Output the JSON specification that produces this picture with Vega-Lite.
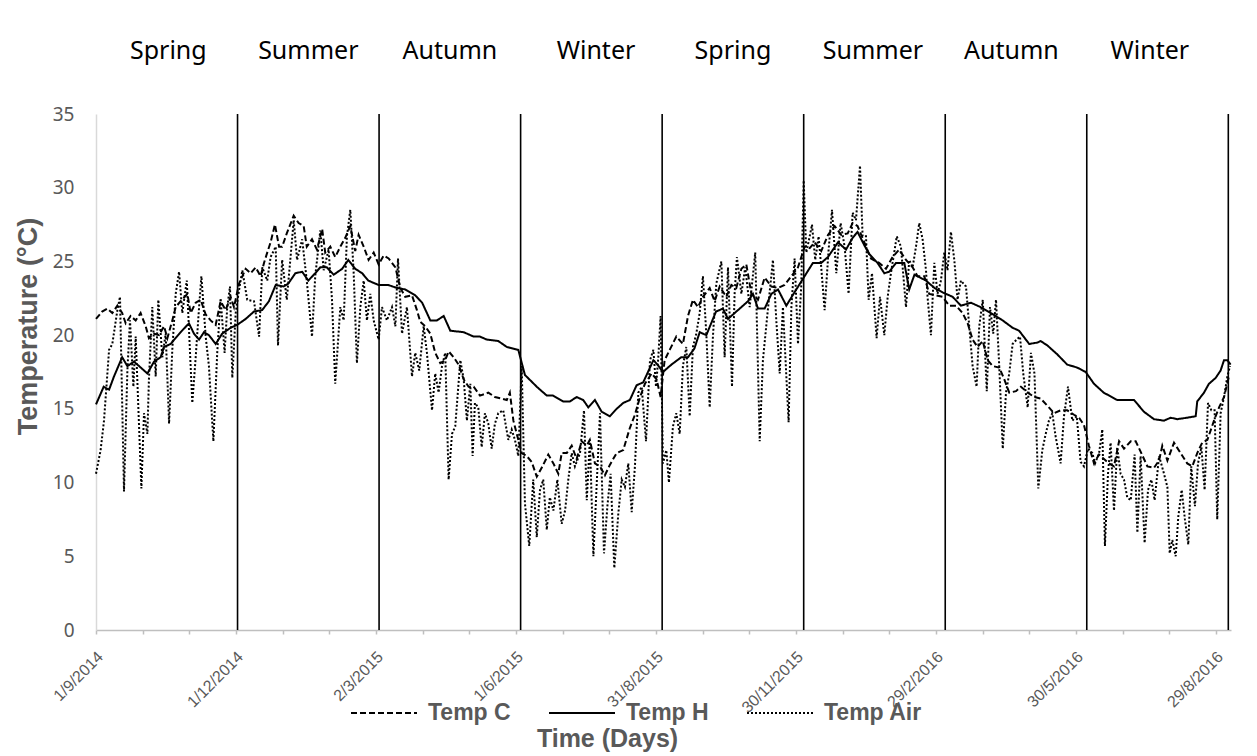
{
  "$schema": "https://vega.github.io/schema/vega-lite/v6.json",
  "width": 1135,
  "height": 516,
  "autosize": {"type": "none"},
  "padding": {"left": 96, "top": 114, "right": 26, "bottom": 126},
  "background": "white",
  "config": {"view": {"stroke": null}, "font": "Liberation Sans"},
  "datasets": {
    "bounds": [{"day": 92}, {"day": 184}, {"day": 276}, {"day": 368}, {"day": 460}, {"day": 552}, {"day": 644}, {"day": 736}],
    "seasons": [
      {"season": "Spring", "day": 47}, {"season": "Summer", "day": 138}, {"season": "Autumn", "day": 230}, {"season": "Winter", "day": 325},
      {"season": "Spring", "day": 414}, {"season": "Summer", "day": 505}, {"season": "Autumn", "day": 595}, {"season": "Winter", "day": 685}
    ],
    "temps": [
      {"series":"Temp H","day":0,"temp":15.3},{"series":"Temp H","day":5,"temp":16.5},{"series":"Temp H","day":8.5,"temp":16.3},{"series":"Temp H","day":11.7,"temp":17.2},{"series":"Temp H","day":17,"temp":18.5},{"series":"Temp H","day":20.4,"temp":17.9},{"series":"Temp H","day":24.7,"temp":18.2},{"series":"Temp H","day":28,"temp":17.9},{"series":"Temp H","day":33.4,"temp":17.4},{"series":"Temp H","day":37.7,"temp":18.2},{"series":"Temp H","day":42,"temp":18.5},{"series":"Temp H","day":44.2,"temp":19.2},{"series":"Temp H","day":48.5,"temp":19.4},{"series":"Temp H","day":55,"temp":20.2},{"series":"Temp H","day":60.4,"temp":20.8},{"series":"Temp H","day":63.7,"temp":20.1},{"series":"Temp H","day":67,"temp":19.7},{"series":"Temp H","day":70.2,"temp":20.2},{"series":"Temp H","day":73.4,"temp":20.0},{"series":"Temp H","day":77.8,"temp":19.4},{"series":"Temp H","day":82,"temp":20.1},{"series":"Temp H","day":87.5,"temp":20.5},{"series":"Temp H","day":91.8,"temp":20.7},{"series":"Temp H","day":97.3,"temp":21.1},{"series":"Temp H","day":102.7,"temp":21.6},{"series":"Temp H","day":108,"temp":21.7},{"series":"Temp H","day":112.4,"temp":22.3},{"series":"Temp H","day":116.8,"temp":23.4},{"series":"Temp H","day":122,"temp":23.3},{"series":"Temp H","day":125,"temp":23.5},{"series":"Temp H","day":129.6,"temp":24.2},{"series":"Temp H","day":134,"temp":24.3},{"series":"Temp H","day":138,"temp":23.7},{"series":"Temp H","day":142.5,"temp":24.2},{"series":"Temp H","day":145.8,"temp":24.6},{"series":"Temp H","day":150,"temp":24.6},{"series":"Temp H","day":154.5,"temp":24.1},{"series":"Temp H","day":160,"temp":24.5},{"series":"Temp H","day":164,"temp":25.1},{"series":"Temp H","day":168.5,"temp":24.5},{"series":"Temp H","day":173,"temp":24.2},{"series":"Temp H","day":177,"temp":23.7},{"series":"Temp H","day":183.7,"temp":23.4},{"series":"Temp H","day":190,"temp":23.4},{"series":"Temp H","day":195.6,"temp":23.2},{"series":"Temp H","day":201,"temp":23.1},{"series":"Temp H","day":207.5,"temp":22.7},{"series":"Temp H","day":212,"temp":22.2},{"series":"Temp H","day":217.3,"temp":21.0},{"series":"Temp H","day":221.6,"temp":21.0},{"series":"Temp H","day":226,"temp":21.3},{"series":"Temp H","day":230.3,"temp":20.3},{"series":"Temp H","day":239,"temp":20.2},{"series":"Temp H","day":245.5,"temp":19.9},{"series":"Temp H","day":249.6,"temp":19.9},{"series":"Temp H","day":254,"temp":19.7},{"series":"Temp H","day":261.5,"temp":19.6},{"series":"Temp H","day":267,"temp":19.2},{"series":"Temp H","day":274.5,"temp":19.0},{"series":"Temp H","day":278.8,"temp":17.3},{"series":"Temp H","day":286.5,"temp":16.5},{"series":"Temp H","day":293,"temp":15.9},{"series":"Temp H","day":297,"temp":15.9},{"series":"Temp H","day":303.7,"temp":15.5},{"series":"Temp H","day":308,"temp":15.5},{"series":"Temp H","day":312.4,"temp":15.8},{"series":"Temp H","day":316.7,"temp":15.6},{"series":"Temp H","day":320,"temp":15.1},{"series":"Temp H","day":324.3,"temp":15.6},{"series":"Temp H","day":328.7,"temp":14.8},{"series":"Temp H","day":334,"temp":14.5},{"series":"Temp H","day":338.4,"temp":15.0},{"series":"Temp H","day":342.7,"temp":15.4},{"series":"Temp H","day":347,"temp":15.6},{"series":"Temp H","day":351.4,"temp":16.6},{"series":"Temp H","day":355.7,"temp":16.8},{"series":"Temp H","day":362.3,"temp":18.3},{"series":"Temp H","day":365,"temp":18.0},{"series":"Temp H","day":368.5,"temp":17.5},{"series":"Temp H","day":374,"temp":18.0},{"series":"Temp H","day":380.4,"temp":18.5},{"series":"Temp H","day":384.8,"temp":18.5},{"series":"Temp H","day":389,"temp":19.1},{"series":"Temp H","day":392.4,"temp":20.2},{"series":"Temp H","day":396.7,"temp":20.0},{"series":"Temp H","day":403,"temp":21.6},{"series":"Temp H","day":407.5,"temp":21.8},{"series":"Temp H","day":410.8,"temp":21.1},{"series":"Temp H","day":417.3,"temp":21.7},{"series":"Temp H","day":423.8,"temp":22.3},{"series":"Temp H","day":427,"temp":22.8},{"series":"Temp H","day":430.3,"temp":21.8},{"series":"Temp H","day":434.6,"temp":21.8},{"series":"Temp H","day":439,"temp":22.8},{"series":"Temp H","day":443.3,"temp":23.1},{"series":"Temp H","day":448.7,"temp":22.0},{"series":"Temp H","day":454,"temp":22.9},{"series":"Temp H","day":460.6,"temp":24.0},{"series":"Temp H","day":466,"temp":24.9},{"series":"Temp H","day":471.4,"temp":24.9},{"series":"Temp H","day":475.8,"temp":25.3},{"series":"Temp H","day":482.3,"temp":26.3},{"series":"Temp H","day":487.5,"temp":25.8},{"series":"Temp H","day":491.8,"temp":26.6},{"series":"Temp H","day":495,"temp":27.0},{"series":"Temp H","day":499.4,"temp":26.1},{"series":"Temp H","day":502.6,"temp":25.5},{"series":"Temp H","day":508,"temp":24.9},{"series":"Temp H","day":512.4,"temp":24.2},{"series":"Temp H","day":515.6,"temp":24.3},{"series":"Temp H","day":520,"temp":24.9},{"series":"Temp H","day":525.4,"temp":24.9},{"series":"Temp H","day":528.6,"temp":23.1},{"series":"Temp H","day":532,"temp":24.1},{"series":"Temp H","day":539.5,"temp":23.7},{"series":"Temp H","day":545,"temp":23.2},{"series":"Temp H","day":550.3,"temp":22.9},{"series":"Temp H","day":556.8,"temp":22.6},{"series":"Temp H","day":562.2,"temp":22.0},{"series":"Temp H","day":568.7,"temp":22.2},{"series":"Temp H","day":575,"temp":21.9},{"series":"Temp H","day":581.7,"temp":21.5},{"series":"Temp H","day":589.3,"temp":21.0},{"series":"Temp H","day":595.8,"temp":20.5},{"series":"Temp H","day":600,"temp":20.3},{"series":"Temp H","day":606.6,"temp":19.4},{"series":"Temp H","day":612,"temp":19.5},{"series":"Temp H","day":614,"temp":19.6},{"series":"Temp H","day":618.4,"temp":19.3},{"series":"Temp H","day":624.8,"temp":18.7},{"series":"Temp H","day":631.3,"temp":18.0},{"series":"Temp H","day":637.8,"temp":17.8},{"series":"Temp H","day":643.3,"temp":17.5},{"series":"Temp H","day":648.7,"temp":16.7},{"series":"Temp H","day":655,"temp":16.1},{"series":"Temp H","day":663.8,"temp":15.6},{"series":"Temp H","day":669.3,"temp":15.6},{"series":"Temp H","day":674.7,"temp":15.6},{"series":"Temp H","day":681.2,"temp":14.8},{"series":"Temp H","day":687.7,"temp":14.3},{"series":"Temp H","day":694.2,"temp":14.2},{"series":"Temp H","day":698.5,"temp":14.4},{"series":"Temp H","day":702.8,"temp":14.3},{"series":"Temp H","day":709.3,"temp":14.4},{"series":"Temp H","day":714.8,"temp":14.5},{"series":"Temp H","day":715.8,"temp":15.5},{"series":"Temp H","day":720.2,"temp":16.1},{"series":"Temp H","day":723.4,"temp":16.7},{"series":"Temp H","day":727.8,"temp":17.1},{"series":"Temp H","day":731,"temp":17.6},{"series":"Temp H","day":733.2,"temp":18.3},{"series":"Temp H","day":735.4,"temp":18.3},{"series":"Temp H","day":737.5,"temp":18.0},
      {"series":"Temp C","day":0,"temp":21.1},{"series":"Temp C","day":4,"temp":21.6},{"series":"Temp C","day":7.4,"temp":21.8},{"series":"Temp C","day":10.6,"temp":21.5},{"series":"Temp C","day":13.9,"temp":22.0},{"series":"Temp C","day":17,"temp":21.5},{"series":"Temp C","day":19.3,"temp":20.8},{"series":"Temp C","day":22.5,"temp":21.3},{"series":"Temp C","day":25.8,"temp":21.0},{"series":"Temp C","day":29,"temp":21.5},{"series":"Temp C","day":32.3,"temp":20.6},{"series":"Temp C","day":34.4,"temp":19.8},{"series":"Temp C","day":37.7,"temp":20.1},{"series":"Temp C","day":41,"temp":20.0},{"series":"Temp C","day":44.2,"temp":20.6},{"series":"Temp C","day":46.4,"temp":19.8},{"series":"Temp C","day":49.6,"temp":21.0},{"series":"Temp C","day":51.8,"temp":21.9},{"series":"Temp C","day":55,"temp":22.3},{"series":"Temp C","day":59.4,"temp":22.8},{"series":"Temp C","day":61.5,"temp":21.5},{"series":"Temp C","day":64.8,"temp":22.2},{"series":"Temp C","day":68,"temp":22.4},{"series":"Temp C","day":71.3,"temp":21.4},{"series":"Temp C","day":74.5,"temp":21.0},{"series":"Temp C","day":77.8,"temp":20.7},{"series":"Temp C","day":81,"temp":22.3},{"series":"Temp C","day":84.3,"temp":21.7},{"series":"Temp C","day":87.5,"temp":22.6},{"series":"Temp C","day":89.7,"temp":21.9},{"series":"Temp C","day":93,"temp":23.5},{"series":"Temp C","day":97.3,"temp":24.5},{"series":"Temp C","day":100.5,"temp":24.2},{"series":"Temp C","day":103.8,"temp":24.6},{"series":"Temp C","day":107,"temp":24.0},{"series":"Temp C","day":109.2,"temp":24.9},{"series":"Temp C","day":111.3,"temp":25.6},{"series":"Temp C","day":113.5,"temp":26.3},{"series":"Temp C","day":116.3,"temp":27.5},{"series":"Temp C","day":119,"temp":26.0},{"series":"Temp C","day":121,"temp":26.0},{"series":"Temp C","day":124,"temp":26.9},{"series":"Temp C","day":128.5,"temp":28.1},{"series":"Temp C","day":131.7,"temp":27.6},{"series":"Temp C","day":135,"temp":27.4},{"series":"Temp C","day":137,"temp":26.0},{"series":"Temp C","day":140.4,"temp":26.5},{"series":"Temp C","day":143.6,"temp":25.8},{"series":"Temp C","day":147,"temp":27.2},{"series":"Temp C","day":149,"temp":25.6},{"series":"Temp C","day":152.3,"temp":26.0},{"series":"Temp C","day":155.5,"temp":25.3},{"series":"Temp C","day":158.8,"temp":26.0},{"series":"Temp C","day":162,"temp":26.6},{"series":"Temp C","day":165.3,"temp":27.4},{"series":"Temp C","day":168.5,"temp":25.7},{"series":"Temp C","day":170.7,"temp":26.8},{"series":"Temp C","day":174,"temp":26.0},{"series":"Temp C","day":177.2,"temp":25.1},{"series":"Temp C","day":180.5,"temp":25.6},{"series":"Temp C","day":183.7,"temp":24.8},{"series":"Temp C","day":187,"temp":25.4},{"series":"Temp C","day":190.2,"temp":25.2},{"series":"Temp C","day":194.6,"temp":24.6},{"series":"Temp C","day":197.8,"temp":23.2},{"series":"Temp C","day":201,"temp":22.6},{"series":"Temp C","day":205.4,"temp":22.7},{"series":"Temp C","day":208.6,"temp":21.7},{"series":"Temp C","day":210.8,"temp":20.9},{"series":"Temp C","day":214,"temp":20.6},{"series":"Temp C","day":217.3,"temp":20.1},{"series":"Temp C","day":220.5,"temp":18.8},{"series":"Temp C","day":223.8,"temp":18.1},{"series":"Temp C","day":227,"temp":18.3},{"series":"Temp C","day":229.2,"temp":18.9},{"series":"Temp C","day":232.5,"temp":18.5},{"series":"Temp C","day":235.7,"temp":18.0},{"series":"Temp C","day":239,"temp":17.0},{"series":"Temp C","day":242.2,"temp":16.5},{"series":"Temp C","day":245.5,"temp":16.5},{"series":"Temp C","day":249.6,"temp":15.9},{"series":"Temp C","day":255,"temp":16.1},{"series":"Temp C","day":259.3,"temp":15.8},{"series":"Temp C","day":263.7,"temp":15.7},{"series":"Temp C","day":267,"temp":15.6},{"series":"Temp C","day":269,"temp":16.1},{"series":"Temp C","day":271.3,"temp":14.2},{"series":"Temp C","day":274.5,"temp":12.9},{"series":"Temp C","day":276.7,"temp":12.0},{"series":"Temp C","day":280,"temp":11.8},{"series":"Temp C","day":283.2,"temp":11.4},{"series":"Temp C","day":286.5,"temp":10.4},{"series":"Temp C","day":289.7,"temp":11.0},{"series":"Temp C","day":294,"temp":11.9},{"series":"Temp C","day":297.3,"temp":11.3},{"series":"Temp C","day":300.5,"temp":10.6},{"series":"Temp C","day":302.7,"temp":12.0},{"series":"Temp C","day":306,"temp":12.0},{"series":"Temp C","day":309.2,"temp":12.5},{"series":"Temp C","day":312.4,"temp":11.6},{"series":"Temp C","day":315.7,"temp":12.8},{"series":"Temp C","day":319,"temp":12.5},{"series":"Temp C","day":321,"temp":12.9},{"series":"Temp C","day":324.3,"temp":11.3},{"series":"Temp C","day":327.6,"temp":11.1},{"series":"Temp C","day":330.8,"temp":10.5},{"series":"Temp C","day":334,"temp":11.2},{"series":"Temp C","day":338.4,"temp":12.0},{"series":"Temp C","day":342.7,"temp":12.2},{"series":"Temp C","day":347,"temp":13.7},{"series":"Temp C","day":350.3,"temp":14.6},{"series":"Temp C","day":353.6,"temp":15.8},{"series":"Temp C","day":356.8,"temp":16.7},{"series":"Temp C","day":361.2,"temp":17.4},{"series":"Temp C","day":364.4,"temp":17.0},{"series":"Temp C","day":367,"temp":15.8},{"series":"Temp C","day":369.6,"temp":18.3},{"series":"Temp C","day":372.9,"temp":19.0},{"series":"Temp C","day":377.2,"temp":19.9},{"series":"Temp C","day":381.5,"temp":19.4},{"series":"Temp C","day":384.8,"temp":21.3},{"series":"Temp C","day":388,"temp":22.4},{"series":"Temp C","day":391.3,"temp":21.9},{"series":"Temp C","day":394.5,"temp":22.6},{"series":"Temp C","day":398.9,"temp":23.2},{"series":"Temp C","day":402.1,"temp":22.3},{"series":"Temp C","day":405.4,"temp":23.3},{"series":"Temp C","day":409.7,"temp":22.6},{"series":"Temp C","day":413,"temp":23.4},{"series":"Temp C","day":416.2,"temp":23.2},{"series":"Temp C","day":419.5,"temp":24.5},{"series":"Temp C","day":422.7,"temp":24.8},{"series":"Temp C","day":426,"temp":22.8},{"series":"Temp C","day":430.3,"temp":22.4},{"series":"Temp C","day":434.6,"temp":23.9},{"series":"Temp C","day":439,"temp":23.3},{"series":"Temp C","day":443.3,"temp":23.2},{"series":"Temp C","day":447.6,"temp":23.4},{"series":"Temp C","day":452,"temp":24.0},{"series":"Temp C","day":456.3,"temp":24.6},{"series":"Temp C","day":460.6,"temp":26.0},{"series":"Temp C","day":463.9,"temp":25.9},{"series":"Temp C","day":467.1,"temp":26.3},{"series":"Temp C","day":471.4,"temp":25.7},{"series":"Temp C","day":475.8,"temp":26.8},{"series":"Temp C","day":480.1,"temp":27.4},{"series":"Temp C","day":484.4,"temp":26.8},{"series":"Temp C","day":488.6,"temp":26.9},{"series":"Temp C","day":491.8,"temp":27.6},{"series":"Temp C","day":495,"temp":27.4},{"series":"Temp C","day":499.4,"temp":26.3},{"series":"Temp C","day":503.7,"temp":25.2},{"series":"Temp C","day":509,"temp":24.9},{"series":"Temp C","day":513.5,"temp":24.5},{"series":"Temp C","day":517.8,"temp":25.3},{"series":"Temp C","day":522,"temp":25.8},{"series":"Temp C","day":526.5,"temp":25.1},{"series":"Temp C","day":530.8,"temp":24.6},{"series":"Temp C","day":534,"temp":24.0},{"series":"Temp C","day":538.4,"temp":24.0},{"series":"Temp C","day":541.6,"temp":22.8},{"series":"Temp C","day":546,"temp":22.7},{"series":"Temp C","day":550.3,"temp":22.6},{"series":"Temp C","day":554.6,"temp":22.0},{"series":"Temp C","day":559,"temp":22.0},{"series":"Temp C","day":563.3,"temp":21.5},{"series":"Temp C","day":566.6,"temp":20.8},{"series":"Temp C","day":569.8,"temp":19.7},{"series":"Temp C","day":573,"temp":19.2},{"series":"Temp C","day":576.4,"temp":19.6},{"series":"Temp C","day":579.6,"temp":18.3},{"series":"Temp C","day":582.9,"temp":17.9},{"series":"Temp C","day":587.1,"temp":17.8},{"series":"Temp C","day":590.4,"temp":17.0},{"series":"Temp C","day":593.6,"temp":16.1},{"series":"Temp C","day":598,"temp":16.2},{"series":"Temp C","day":601.2,"temp":16.5},{"series":"Temp C","day":605.6,"temp":16.1},{"series":"Temp C","day":610,"temp":15.8},{"series":"Temp C","day":614,"temp":15.7},{"series":"Temp C","day":619.4,"temp":15.1},{"series":"Temp C","day":622.7,"temp":14.7},{"series":"Temp C","day":627,"temp":14.9},{"series":"Temp C","day":631.3,"temp":14.9},{"series":"Temp C","day":635.7,"temp":14.6},{"series":"Temp C","day":639,"temp":14.4},{"series":"Temp C","day":642.2,"temp":13.9},{"series":"Temp C","day":645.4,"temp":12.5},{"series":"Temp C","day":648.7,"temp":11.3},{"series":"Temp C","day":652,"temp":11.9},{"series":"Temp C","day":655.2,"temp":11.6},{"series":"Temp C","day":658.4,"temp":11.3},{"series":"Temp C","day":661.7,"temp":11.1},{"series":"Temp C","day":665,"temp":12.8},{"series":"Temp C","day":668.2,"temp":12.3},{"series":"Temp C","day":672.6,"temp":12.8},{"series":"Temp C","day":675.8,"temp":12.8},{"series":"Temp C","day":679,"temp":12.1},{"series":"Temp C","day":683.4,"temp":11.1},{"series":"Temp C","day":687.7,"temp":11.0},{"series":"Temp C","day":691,"temp":11.5},{"series":"Temp C","day":693.1,"temp":12.5},{"series":"Temp C","day":696.4,"temp":11.5},{"series":"Temp C","day":700.7,"temp":12.7},{"series":"Temp C","day":705,"temp":12.0},{"series":"Temp C","day":709.3,"temp":11.3},{"series":"Temp C","day":712.6,"temp":11.1},{"series":"Temp C","day":715.8,"temp":12.0},{"series":"Temp C","day":719,"temp":12.7},{"series":"Temp C","day":722.4,"temp":12.9},{"series":"Temp C","day":726.7,"temp":14.2},{"series":"Temp C","day":730,"temp":15.1},{"series":"Temp C","day":733.2,"temp":15.8},{"series":"Temp C","day":736.4,"temp":17.2},
      {"series":"Temp Air","day":0,"temp":10.6},{"series":"Temp Air","day":3,"temp":12.2},{"series":"Temp Air","day":5.2,"temp":14.2},{"series":"Temp Air","day":8.5,"temp":19.0},{"series":"Temp Air","day":10.6,"temp":19.4},{"series":"Temp Air","day":13.9,"temp":21.7},{"series":"Temp Air","day":15.6,"temp":22.6},{"series":"Temp Air","day":18.2,"temp":9.4},{"series":"Temp Air","day":20.4,"temp":17.6},{"series":"Temp Air","day":22.1,"temp":21.0},{"series":"Temp Air","day":24.3,"temp":16.5},{"series":"Temp Air","day":25.8,"temp":19.9},{"series":"Temp Air","day":29.5,"temp":9.6},{"series":"Temp Air","day":31.2,"temp":14.7},{"series":"Temp Air","day":33.4,"temp":13.3},{"series":"Temp Air","day":34.4,"temp":17.0},{"series":"Temp Air","day":36.6,"temp":21.9},{"series":"Temp Air","day":38.8,"temp":17.2},{"series":"Temp Air","day":40.5,"temp":22.4},{"series":"Temp Air","day":43.1,"temp":18.5},{"series":"Temp Air","day":45.3,"temp":20.1},{"series":"Temp Air","day":47.5,"temp":14.0},{"series":"Temp Air","day":49.6,"temp":19.0},{"series":"Temp Air","day":51.8,"temp":22.8},{"series":"Temp Air","day":54,"temp":24.3},{"series":"Temp Air","day":56.1,"temp":21.5},{"series":"Temp Air","day":59,"temp":23.7},{"series":"Temp Air","day":62.6,"temp":15.4},{"series":"Temp Air","day":64.8,"temp":18.5},{"series":"Temp Air","day":67,"temp":21.9},{"series":"Temp Air","day":68.5,"temp":24.0},{"series":"Temp Air","day":71.3,"temp":19.9},{"series":"Temp Air","day":73.4,"temp":17.9},{"series":"Temp Air","day":76.3,"temp":12.8},{"series":"Temp Air","day":78.8,"temp":18.8},{"series":"Temp Air","day":81,"temp":22.5},{"series":"Temp Air","day":83.6,"temp":18.8},{"series":"Temp Air","day":85.3,"temp":21.9},{"series":"Temp Air","day":87.1,"temp":23.3},{"series":"Temp Air","day":88.6,"temp":17.1},{"series":"Temp Air","day":90.8,"temp":21.5},{"series":"Temp Air","day":92.3,"temp":22.6},{"series":"Temp Air","day":95.1,"temp":24.4},{"series":"Temp Air","day":98.3,"temp":22.4},{"series":"Temp Air","day":102.7,"temp":22.3},{"series":"Temp Air","day":106,"temp":19.9},{"series":"Temp Air","day":108.1,"temp":24.6},{"series":"Temp Air","day":111.3,"temp":23.7},{"series":"Temp Air","day":113.5,"temp":25.3},{"series":"Temp Air","day":116.8,"temp":26.0},{"series":"Temp Air","day":118.3,"temp":19.3},{"series":"Temp Air","day":121,"temp":25.1},{"series":"Temp Air","day":124,"temp":22.4},{"series":"Temp Air","day":126.3,"temp":25.1},{"series":"Temp Air","day":128.5,"temp":27.8},{"series":"Temp Air","day":130.7,"temp":25.1},{"series":"Temp Air","day":134,"temp":26.5},{"series":"Temp Air","day":137,"temp":23.7},{"series":"Temp Air","day":140.4,"temp":19.9},{"series":"Temp Air","day":142.5,"temp":24.0},{"series":"Temp Air","day":145.8,"temp":27.1},{"series":"Temp Air","day":148,"temp":24.4},{"series":"Temp Air","day":151.2,"temp":25.8},{"series":"Temp Air","day":153.4,"temp":22.4},{"series":"Temp Air","day":155.5,"temp":16.7},{"series":"Temp Air","day":158.8,"temp":21.9},{"series":"Temp Air","day":161,"temp":21.0},{"series":"Temp Air","day":163.1,"temp":26.7},{"series":"Temp Air","day":165.3,"temp":28.5},{"series":"Temp Air","day":167.5,"temp":24.2},{"series":"Temp Air","day":169.6,"temp":18.1},{"series":"Temp Air","day":171.8,"temp":21.9},{"series":"Temp Air","day":174,"temp":23.7},{"series":"Temp Air","day":176.1,"temp":21.0},{"series":"Temp Air","day":178.3,"temp":22.8},{"series":"Temp Air","day":180.5,"temp":21.0},{"series":"Temp Air","day":183.7,"temp":19.7},{"series":"Temp Air","day":185.9,"temp":21.9},{"series":"Temp Air","day":189.1,"temp":21.0},{"series":"Temp Air","day":192.4,"temp":21.9},{"series":"Temp Air","day":194.6,"temp":20.6},{"series":"Temp Air","day":196.3,"temp":25.2},{"series":"Temp Air","day":198.9,"temp":20.1},{"series":"Temp Air","day":202.1,"temp":21.9},{"series":"Temp Air","day":205.4,"temp":17.2},{"series":"Temp Air","day":207.5,"temp":18.8},{"series":"Temp Air","day":210.1,"temp":17.6},{"series":"Temp Air","day":213,"temp":20.6},{"series":"Temp Air","day":215.1,"temp":18.8},{"series":"Temp Air","day":218.4,"temp":14.9},{"series":"Temp Air","day":220.5,"temp":17.4},{"series":"Temp Air","day":222.7,"temp":16.1},{"series":"Temp Air","day":224.9,"temp":17.9},{"series":"Temp Air","day":227,"temp":18.8},{"series":"Temp Air","day":229.2,"temp":10.2},{"series":"Temp Air","day":231.4,"temp":13.3},{"series":"Temp Air","day":233.5,"temp":13.8},{"series":"Temp Air","day":236.8,"temp":18.3},{"series":"Temp Air","day":239,"temp":17.0},{"series":"Temp Air","day":241.1,"temp":14.2},{"series":"Temp Air","day":243.3,"temp":16.7},{"series":"Temp Air","day":244.8,"temp":11.8},{"series":"Temp Air","day":246.3,"temp":15.4},{"series":"Temp Air","day":248.5,"temp":15.1},{"series":"Temp Air","day":250.7,"temp":12.4},{"series":"Temp Air","day":252.8,"temp":14.7},{"series":"Temp Air","day":255,"temp":14.0},{"series":"Temp Air","day":257.2,"temp":12.3},{"series":"Temp Air","day":259.3,"temp":14.0},{"series":"Temp Air","day":261.5,"temp":14.7},{"series":"Temp Air","day":264.7,"temp":14.9},{"series":"Temp Air","day":268,"temp":12.9},{"series":"Temp Air","day":270.2,"temp":13.6},{"series":"Temp Air","day":272.3,"temp":12.9},{"series":"Temp Air","day":274.5,"temp":11.8},{"series":"Temp Air","day":276.7,"temp":17.9},{"series":"Temp Air","day":278.8,"temp":8.6},{"series":"Temp Air","day":281.6,"temp":5.7},{"series":"Temp Air","day":284.2,"temp":10.2},{"series":"Temp Air","day":286.5,"temp":6.3},{"series":"Temp Air","day":288.6,"temp":9.5},{"series":"Temp Air","day":290.7,"temp":10.2},{"series":"Temp Air","day":293,"temp":6.8},{"series":"Temp Air","day":295,"temp":9.0},{"series":"Temp Air","day":297.3,"temp":8.1},{"series":"Temp Air","day":299.9,"temp":10.2},{"series":"Temp Air","day":302.7,"temp":7.2},{"series":"Temp Air","day":304.9,"temp":8.1},{"series":"Temp Air","day":307,"temp":10.2},{"series":"Temp Air","day":309.2,"temp":12.0},{"series":"Temp Air","day":311.3,"temp":11.1},{"series":"Temp Air","day":314.6,"temp":12.0},{"series":"Temp Air","day":317.2,"temp":14.9},{"series":"Temp Air","day":319,"temp":8.8},{"series":"Temp Air","day":321,"temp":12.9},{"series":"Temp Air","day":323.3,"temp":5.0},{"series":"Temp Air","day":325.5,"temp":10.0},{"series":"Temp Air","day":327.6,"temp":14.7},{"series":"Temp Air","day":330.2,"temp":5.2},{"series":"Temp Air","day":332.4,"temp":8.4},{"series":"Temp Air","day":334.5,"temp":10.6},{"series":"Temp Air","day":336.9,"temp":4.2},{"series":"Temp Air","day":339.5,"temp":7.9},{"series":"Temp Air","day":341.7,"temp":10.2},{"series":"Temp Air","day":343.8,"temp":9.7},{"series":"Temp Air","day":346,"temp":11.3},{"series":"Temp Air","day":348.2,"temp":8.0},{"series":"Temp Air","day":350.3,"temp":11.1},{"series":"Temp Air","day":352.5,"temp":16.1},{"series":"Temp Air","day":354.7,"temp":16.5},{"series":"Temp Air","day":357.5,"temp":12.8},{"series":"Temp Air","day":360.1,"temp":18.3},{"series":"Temp Air","day":362.3,"temp":19.0},{"series":"Temp Air","day":364,"temp":16.5},{"series":"Temp Air","day":365.5,"temp":18.5},{"series":"Temp Air","day":367,"temp":21.3},{"series":"Temp Air","day":368.5,"temp":11.3},{"series":"Temp Air","day":370.7,"temp":12.2},{"series":"Temp Air","day":372.4,"temp":10.0},{"series":"Temp Air","day":375,"temp":13.8},{"series":"Temp Air","day":377.2,"temp":14.7},{"series":"Temp Air","day":379.4,"temp":13.3},{"series":"Temp Air","day":381.5,"temp":17.9},{"series":"Temp Air","day":383.7,"temp":19.2},{"series":"Temp Air","day":385.9,"temp":14.5},{"series":"Temp Air","day":388,"temp":19.2},{"series":"Temp Air","day":390.2,"temp":20.1},{"series":"Temp Air","day":392.4,"temp":21.5},{"series":"Temp Air","day":394.5,"temp":24.0},{"series":"Temp Air","day":396.7,"temp":20.1},{"series":"Temp Air","day":398.9,"temp":15.1},{"series":"Temp Air","day":401,"temp":19.9},{"series":"Temp Air","day":403.2,"temp":23.5},{"series":"Temp Air","day":406.5,"temp":25.0},{"series":"Temp Air","day":408.6,"temp":18.5},{"series":"Temp Air","day":410.8,"temp":24.6},{"series":"Temp Air","day":413.4,"temp":16.5},{"series":"Temp Air","day":415.1,"temp":22.8},{"series":"Temp Air","day":416.6,"temp":25.3},{"series":"Temp Air","day":419.5,"temp":22.8},{"series":"Temp Air","day":422,"temp":24.6},{"series":"Temp Air","day":424.9,"temp":21.9},{"series":"Temp Air","day":428.5,"temp":25.6},{"series":"Temp Air","day":431.4,"temp":12.8},{"series":"Temp Air","day":433.5,"temp":18.3},{"series":"Temp Air","day":436.3,"temp":21.3},{"series":"Temp Air","day":440,"temp":25.1},{"series":"Temp Air","day":442.2,"temp":21.0},{"series":"Temp Air","day":444.4,"temp":17.4},{"series":"Temp Air","day":446.5,"temp":21.9},{"series":"Temp Air","day":450.2,"temp":14.1},{"series":"Temp Air","day":452,"temp":21.9},{"series":"Temp Air","day":454.1,"temp":25.2},{"series":"Temp Air","day":456.3,"temp":19.4},{"series":"Temp Air","day":458.4,"temp":23.3},{"series":"Temp Air","day":460,"temp":30.5},{"series":"Temp Air","day":461.7,"temp":25.6},{"series":"Temp Air","day":463.9,"temp":26.7},{"series":"Temp Air","day":465.4,"temp":27.5},{"series":"Temp Air","day":467.5,"temp":25.1},{"series":"Temp Air","day":469.7,"temp":26.7},{"series":"Temp Air","day":471.4,"temp":24.6},{"series":"Temp Air","day":473.6,"temp":21.7},{"series":"Temp Air","day":476.2,"temp":25.8},{"series":"Temp Air","day":478.4,"temp":28.5},{"series":"Temp Air","day":481.2,"temp":24.2},{"series":"Temp Air","day":484,"temp":27.6},{"series":"Temp Air","day":486.6,"temp":26.0},{"series":"Temp Air","day":489.2,"temp":22.8},{"series":"Temp Air","day":491.8,"temp":28.3},{"series":"Temp Air","day":494,"temp":27.8},{"series":"Temp Air","day":496.6,"temp":31.5},{"series":"Temp Air","day":498.3,"temp":26.7},{"series":"Temp Air","day":500.5,"temp":26.7},{"series":"Temp Air","day":502.2,"temp":22.4},{"series":"Temp Air","day":504.4,"temp":24.2},{"series":"Temp Air","day":507.4,"temp":19.8},{"series":"Temp Air","day":509.6,"temp":22.6},{"series":"Temp Air","day":512.4,"temp":20.0},{"series":"Temp Air","day":514.6,"temp":22.6},{"series":"Temp Air","day":516.7,"temp":24.2},{"series":"Temp Air","day":520.5,"temp":26.7},{"series":"Temp Air","day":523.2,"temp":26.0},{"series":"Temp Air","day":526.5,"temp":21.9},{"series":"Temp Air","day":528.6,"temp":25.1},{"series":"Temp Air","day":530.8,"temp":24.6},{"series":"Temp Air","day":533,"temp":26.0},{"series":"Temp Air","day":535.1,"temp":27.6},{"series":"Temp Air","day":537.3,"temp":26.5},{"series":"Temp Air","day":539.5,"temp":24.4},{"series":"Temp Air","day":540.5,"temp":22.6},{"series":"Temp Air","day":542.7,"temp":20.0},{"series":"Temp Air","day":544.9,"temp":24.9},{"series":"Temp Air","day":547,"temp":22.8},{"series":"Temp Air","day":549.2,"temp":23.7},{"series":"Temp Air","day":551.4,"temp":25.6},{"series":"Temp Air","day":553.5,"temp":24.4},{"series":"Temp Air","day":555.7,"temp":27.0},{"series":"Temp Air","day":557.9,"temp":25.1},{"series":"Temp Air","day":560,"temp":22.4},{"series":"Temp Air","day":562.2,"temp":23.7},{"series":"Temp Air","day":565.5,"temp":23.3},{"series":"Temp Air","day":567.6,"temp":20.6},{"series":"Temp Air","day":569.8,"temp":17.9},{"series":"Temp Air","day":572.4,"temp":16.5},{"series":"Temp Air","day":574.1,"temp":20.6},{"series":"Temp Air","day":576.4,"temp":22.4},{"series":"Temp Air","day":579,"temp":16.2},{"series":"Temp Air","day":581.1,"temp":21.9},{"series":"Temp Air","day":583.2,"temp":20.1},{"series":"Temp Air","day":585,"temp":22.4},{"series":"Temp Air","day":587.1,"temp":17.9},{"series":"Temp Air","day":589.4,"temp":12.3},{"series":"Temp Air","day":591.5,"temp":16.1},{"series":"Temp Air","day":593.6,"temp":17.4},{"series":"Temp Air","day":595.8,"temp":19.4},{"series":"Temp Air","day":598.4,"temp":19.7},{"series":"Temp Air","day":600.6,"temp":19.9},{"series":"Temp Air","day":602.7,"temp":17.4},{"series":"Temp Air","day":605.6,"temp":15.1},{"series":"Temp Air","day":607.7,"temp":18.8},{"series":"Temp Air","day":610,"temp":17.4},{"series":"Temp Air","day":612.5,"temp":9.6},{"series":"Temp Air","day":615.1,"temp":12.2},{"series":"Temp Air","day":617.3,"temp":13.3},{"series":"Temp Air","day":619.4,"temp":14.2},{"series":"Temp Air","day":621.6,"temp":14.7},{"series":"Temp Air","day":623.8,"temp":13.1},{"series":"Temp Air","day":627,"temp":11.3},{"series":"Temp Air","day":629.2,"temp":14.5},{"series":"Temp Air","day":631.8,"temp":16.5},{"series":"Temp Air","day":634.6,"temp":14.2},{"series":"Temp Air","day":637.5,"temp":14.5},{"series":"Temp Air","day":640,"temp":11.4},{"series":"Temp Air","day":642.2,"temp":11.1},{"series":"Temp Air","day":644.8,"temp":12.3},{"series":"Temp Air","day":647.6,"temp":12.0},{"series":"Temp Air","day":649.4,"temp":11.3},{"series":"Temp Air","day":652,"temp":12.0},{"series":"Temp Air","day":654.1,"temp":13.6},{"series":"Temp Air","day":655.8,"temp":5.7},{"series":"Temp Air","day":657.8,"temp":10.6},{"series":"Temp Air","day":659.5,"temp":12.7},{"series":"Temp Air","day":661.7,"temp":8.1},{"series":"Temp Air","day":663.8,"temp":12.4},{"series":"Temp Air","day":666,"temp":10.6},{"series":"Temp Air","day":668.2,"temp":10.2},{"series":"Temp Air","day":670.3,"temp":9.0},{"series":"Temp Air","day":672.6,"temp":8.8},{"series":"Temp Air","day":675.1,"temp":11.9},{"series":"Temp Air","day":676.9,"temp":6.6},{"series":"Temp Air","day":679,"temp":11.8},{"series":"Temp Air","day":681.6,"temp":5.9},{"series":"Temp Air","day":683.8,"temp":9.5},{"series":"Temp Air","day":686,"temp":10.2},{"series":"Temp Air","day":688.1,"temp":8.8},{"series":"Temp Air","day":691,"temp":11.8},{"series":"Temp Air","day":694.2,"temp":10.6},{"series":"Temp Air","day":696.4,"temp":9.7},{"series":"Temp Air","day":697.9,"temp":5.2},{"series":"Temp Air","day":699.6,"temp":6.1},{"series":"Temp Air","day":701.8,"temp":5.0},{"series":"Temp Air","day":703.5,"temp":7.7},{"series":"Temp Air","day":705.7,"temp":9.5},{"series":"Temp Air","day":707.8,"temp":7.5},{"series":"Temp Air","day":710,"temp":5.8},{"series":"Temp Air","day":711.9,"temp":11.1},{"series":"Temp Air","day":714.3,"temp":8.4},{"series":"Temp Air","day":716.3,"temp":11.3},{"series":"Temp Air","day":718.5,"temp":12.4},{"series":"Temp Air","day":720.6,"temp":9.5},{"series":"Temp Air","day":722.8,"temp":15.4},{"series":"Temp Air","day":725,"temp":14.9},{"series":"Temp Air","day":727.1,"temp":14.9},{"series":"Temp Air","day":728.8,"temp":7.5},{"series":"Temp Air","day":731,"temp":14.7},{"series":"Temp Air","day":733.2,"temp":15.8},{"series":"Temp Air","day":735.4,"temp":17.2},{"series":"Temp Air","day":737.1,"temp":17.9}
    ]
  },
  "layer": [
    {
      "data": {"name": "bounds"},
      "mark": {"type": "rule", "color": "black", "strokeWidth": 1.6},
      "encoding": {
        "x": {
          "field": "day", "type": "quantitative",
          "scale": {"domain": [0, 737.75], "nice": false, "zero": false},
          "axis": {
            "values": [0,30.333,60.667,91,121.333,151.667,182,212.333,242.667,273,303.333,333.667,364,394.333,424.667,455,485.333,515.667,546,576.333,606.667,637,667.333,697.667,728],
            "labelExpr": "abs(datum.value/91 - round(datum.value/91)) < 0.01 ? timeFormat(datetime(2014, 8, 1 + round(datum.value)), '%-d/%-m/%Y') : ''",
            "labelAngle": -45, "labelAlign": "right", "labelBaseline": "middle",
            "labelFont": "Liberation Sans", "labelFontSize": 16, "labelColor": "#595959",
            "labelPadding": 20, "labelOffset": 4, "labelOverlap": false, "labelFlush": false,
            "tickColor": "#bfbfbf", "tickSize": 4, "tickWidth": 1.5,
            "domainColor": "#bfbfbf", "domainWidth": 1.5, "grid": false,
            "title": "Time (Days)", "titleFont": "Liberation Sans", "titleFontSize": 25, "titleFontWeight": "bold",
            "titleColor": "#595959", "titleX": 511, "titleY": 108, "titleBaseline": "middle", "titleAnchor": null
          }
        },
        "y": {
          "datum": 0, "type": "quantitative",
          "scale": {"domain": [0, 35], "nice": false, "zero": true},
          "axis": {
            "values": [0, 5, 10, 15, 20, 25, 30, 35],
            "ticks": false, "grid": false,
            "domainColor": "#d9d9d9", "domainWidth": 1.5,
            "labelFont": "Noto Sans", "labelFontSize": 19, "labelColor": "#595959", "labelPadding": 22,
            "title": "Temperature (°C)", "titleFont": "Liberation Sans", "titleFontSize": 27, "titleFontWeight": "bold",
            "titleColor": "#595959", "titleX": -68, "titleY": 212, "titleBaseline": "middle", "titleAngle": -90
          }
        },
        "y2": {"datum": 35}
      }
    },
    {
      "data": {"name": "temps"},
      "mark": {"type": "line", "color": "black", "strokeWidth": 2},
      "encoding": {
        "x": {"field": "day", "type": "quantitative"},
        "y": {"field": "temp", "type": "quantitative"},
        "strokeDash": {
          "field": "series", "type": "nominal",
          "scale": {"domain": ["Temp C", "Temp H", "Temp Air"], "range": [[6, 3], [1, 0], [2, 2]]},
          "legend": {
            "orient": "none", "legendX": 254, "legendY": 565, "direction": "horizontal", "title": null,
            "symbolType": "stroke", "symbolSize": 4356, "symbolStrokeWidth": 2, "symbolStrokeColor": "black",
            "labelFont": "Liberation Sans", "labelFontSize": 23, "labelFontWeight": "bold", "labelColor": "#595959",
            "labelOffset": 10, "columnPadding": 34, "labelLimit": 300, "padding": 0
          }
        }
      }
    },
    {
      "data": {"name": "seasons"},
      "mark": {"type": "text", "font": "Noto Sans", "fontSize": 25, "color": "black", "baseline": "middle", "align": "center"},
      "encoding": {
        "x": {"field": "day", "type": "quantitative"},
        "y": {"datum": 39.3, "type": "quantitative"},
        "text": {"field": "season"}
      }
    }
  ]
}
